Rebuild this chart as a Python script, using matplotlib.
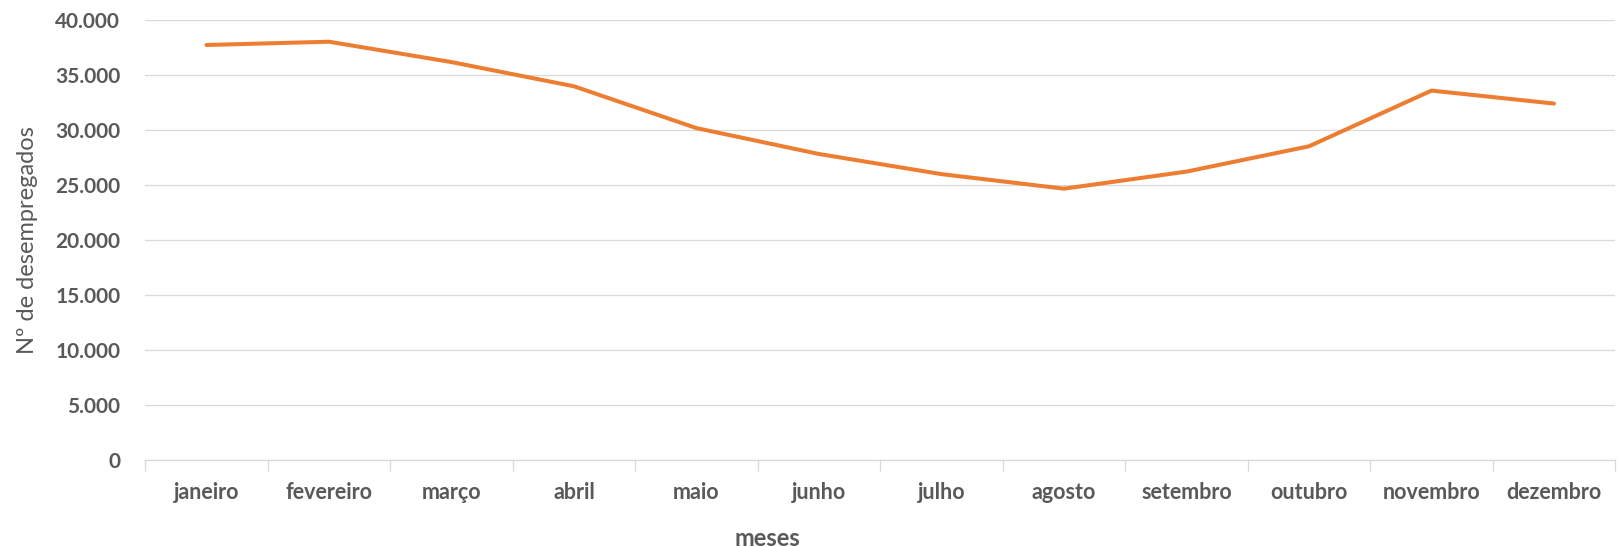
import numpy as np
import matplotlib
matplotlib.use("Agg")
from matplotlib import pyplot as plt
from matplotlib.ticker import FuncFormatter, FixedLocator

meses = ["janeiro", "fevereiro", "março", "abril", "maio", "junho",
         "julho", "agosto", "setembro", "outubro", "novembro", "dezembro"]
desempregados = [37700, 38000, 36150, 33950, 30150, 27800,
                 25970, 24650, 26200, 28500, 33560, 32380]
y_ticks = [0, 5000, 10000, 15000, 20000, 25000, 30000, 35000, 40000]

plt.rcParams['font.family'] = ['Lato', 'DejaVu Sans']
cinza = "#595959"

fig = plt.figure(figsize=(16.19, 5.47), dpi=100)
ax = fig.add_axes([0.0897, 0.159, 0.908, 0.805])

x = np.arange(len(meses))
ax.plot(x, desempregados, color="#ED7D31", linewidth=2.9, solid_capstyle="round",
        solid_joinstyle="round", zorder=3)

ax.set_xlim(-0.5, len(meses) - 0.5)
ax.set_ylim(0, 40000)
ax.set_yticks(y_ticks)
ax.yaxis.set_major_formatter(FuncFormatter(lambda v, p: f"{int(v):,}".replace(",", ".")))
ax.grid(axis="y", color="#D9D9D9", linewidth=0.9, zorder=0)

ax.set_xticks(x)
ax.set_xticklabels(meses)
ax.xaxis.set_minor_locator(FixedLocator(np.arange(-0.5, len(meses), 1.0)))
ax.tick_params(axis="x", which="major", length=0, pad=16)
ax.tick_params(axis="x", which="minor", length=8, color="#D9D9D9", width=0.9)
ax.tick_params(axis="y", length=0, pad=18)

for lab in ax.get_xticklabels():
    lab.set_fontsize(15.5)
    lab.set_fontweight("bold")
    lab.set_color(cinza)
for lab in ax.get_yticklabels():
    lab.set_fontsize(15)
    lab.set_fontweight("bold")
    lab.set_color(cinza)

for s in ["top", "right", "left"]:
    ax.spines[s].set_visible(False)
ax.spines["bottom"].set_color("#D9D9D9")
ax.spines["bottom"].set_linewidth(0.9)

ax.set_xlabel("meses", fontsize=17, fontweight="bold", color=cinza, labelpad=17)
ax.xaxis.label.set_x(0.423)
ax.set_ylabel("Nº de desempregados", fontsize=17, color=cinza, labelpad=12)

fig.savefig("out.png", dpi=100)
